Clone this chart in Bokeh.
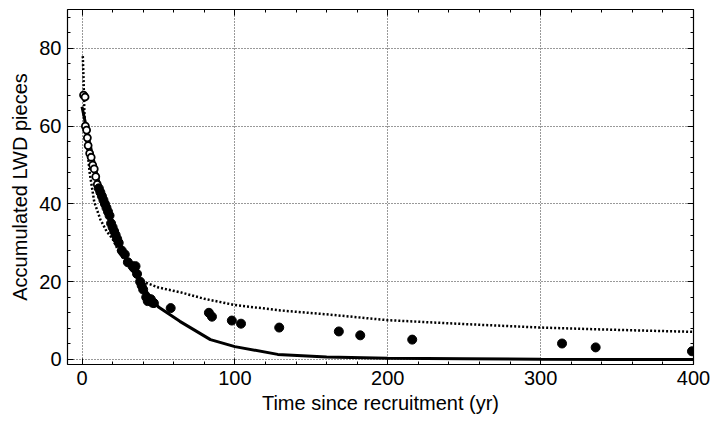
from bokeh.plotting import figure
from bokeh.models import LinearAxis, Range1d, FixedTicker
from bokeh.embed import file_html
from bokeh.resources import INLINE

# observed data (open circles = early dense points, filled = later)
obs_open_x = [1, 2, 2.2, 3, 3.5, 4, 5, 6, 7, 8, 9, 10]
obs_open_y = [68, 67.5, 60, 59, 57, 55, 53, 52, 50, 49, 47, 45]
obs_x = [11, 12, 13, 14, 15, 16, 17, 18, 19, 20, 21, 22, 23, 24, 26, 28, 30,
         33, 34, 35, 36, 38, 39, 40, 42, 43, 45, 46, 47, 58, 83, 85, 98, 104,
         129, 168, 182, 216, 314, 336, 399]
obs_y = [44, 43, 42, 41, 40, 39, 38, 37, 35, 34, 33, 32, 31, 30, 28, 27, 25,
         24, 23.5, 24, 22, 20, 19, 18, 16, 15, 15.5, 14.6, 14.5, 13.2, 12, 11, 10, 9.2,
         8.2, 7.2, 6.2, 5.1, 4.1, 3.1, 2.1]

# model curve (solid)
solid_x = [0, 4, 10, 15, 20, 30, 40, 50, 64, 84, 100, 128, 160, 200, 250, 300, 350, 400]
solid_y = [65, 57.4, 47, 40.5, 34.8, 25, 18.5, 13.5, 9.8, 5.1, 3.3, 1.3, 0.6, 0.3, 0.2, 0.05, 0, 0]

# alternative model curve (dotted)
dot_x = [0.5, 1, 1.5, 2, 3.5, 5, 8, 12, 16, 20, 25, 30, 35, 40, 50, 65, 80, 100,
         130, 160, 200, 250, 300, 350, 400]
dot_y = [78, 72, 64, 60, 54, 48, 40.5, 36, 33, 31, 27, 24.5, 22, 20, 18.5, 17.2,
         15.6, 14, 12.6, 11.6, 10.1, 9.1, 8.2, 7.6, 7.1]

x_ticks = [0, 100, 200, 300, 400]
y_ticks = [0, 20, 40, 60, 80]
x_minor = list(range(0, 401, 20))
y_minor = list(range(0, 89, 4))

FONT = "Liberation Sans"

p = figure(width=712, height=421, output_backend="svg", toolbar_location=None,
           x_range=Range1d(-9.5, 400), y_range=Range1d(-1.3, 90),
           min_border_left=67, min_border_right=19, min_border_top=9, min_border_bottom=57,
           x_axis_label="Time since recruitment (yr)", y_axis_label="Accumulated LWD pieces")
p.outline_line_color = "black"
p.outline_line_width = 1.2
p.background_fill_color = "white"
p.border_fill_color = "white"

for ax in [p.xaxis[0], p.yaxis[0]]:
    ax.axis_line_color = None
    ax.major_tick_in = 6
    ax.major_tick_out = 0
    ax.minor_tick_in = 3
    ax.minor_tick_out = 0
    ax.major_tick_line_color = "black"
    ax.minor_tick_line_color = "black"
    ax.major_label_text_font = FONT
    ax.major_label_text_font_size = "20px"
    ax.major_label_text_color = "black"
    ax.axis_label_text_font = FONT
    ax.axis_label_text_font_size = "20px"
    ax.axis_label_text_font_style = "normal"
    ax.axis_label_text_color = "black"

p.xaxis.ticker = FixedTicker(ticks=x_ticks, minor_ticks=x_minor)
p.yaxis.ticker = FixedTicker(ticks=y_ticks, minor_ticks=y_minor)
p.xaxis.major_label_standoff = 6
p.yaxis.major_label_standoff = 6
p.xaxis.axis_label_standoff = 4
p.yaxis.axis_label_standoff = 5

# mirrored inward ticks on top and right
top = LinearAxis(ticker=FixedTicker(ticks=x_ticks, minor_ticks=x_minor))
right = LinearAxis(ticker=FixedTicker(ticks=y_ticks, minor_ticks=y_minor))
for ax in [top, right]:
    ax.axis_line_color = None
    ax.major_tick_in = 6
    ax.major_tick_out = 0
    ax.minor_tick_in = 3
    ax.minor_tick_out = 0
    ax.major_label_text_font_size = "0px"
    ax.major_label_text_color = None
    ax.major_label_standoff = 0
p.add_layout(top, "above")
p.add_layout(right, "right")

for g in [p.xgrid[0], p.ygrid[0]]:
    g.grid_line_color = "black"
    g.grid_line_dash = "1 2"
    g.grid_line_width = 1
    g.grid_line_alpha = 0.8
p.xgrid.ticker = FixedTicker(ticks=x_ticks)
p.ygrid.ticker = FixedTicker(ticks=y_ticks)

p.line(dot_x, dot_y, line_color="black", line_width=2.5, line_dash="2 2")
p.line(solid_x, solid_y, line_color="black", line_width=3)
p.scatter(obs_open_x, obs_open_y, size=7, marker="circle", line_color="black",
          fill_color="white", line_width=1.8)
p.scatter(obs_x, obs_y, size=9, marker="circle", line_color="black", fill_color="black")

open("out.html", "w").write(file_html(p, INLINE))
